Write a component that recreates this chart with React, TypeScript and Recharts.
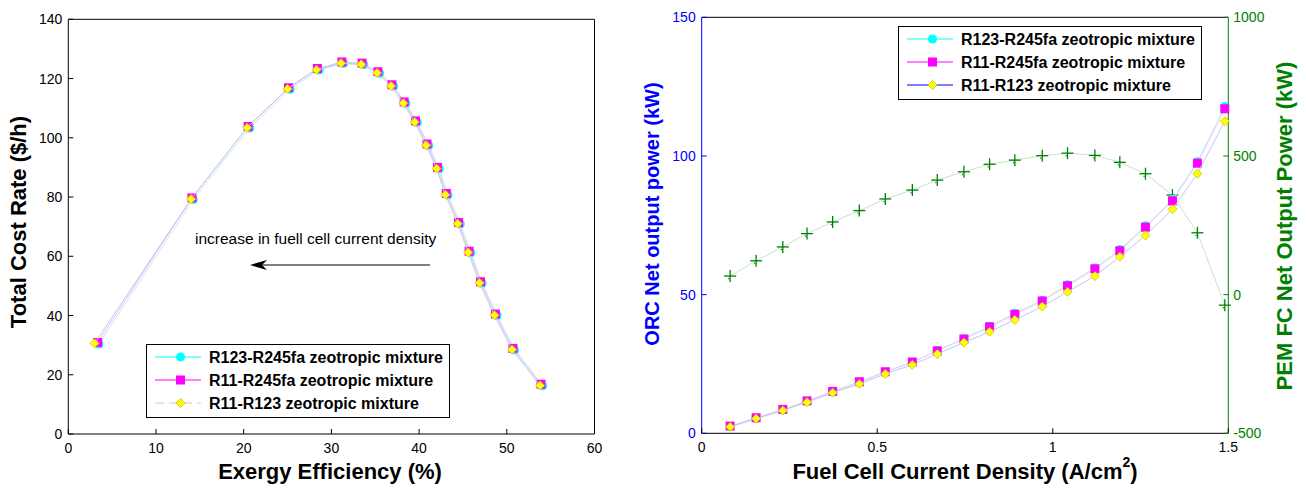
import React from "react";
import { ScatterChart, Scatter, XAxis, YAxis } from "recharts";

const FONT = '"Liberation Sans", Arial, Helvetica, sans-serif';

// left panel: exergy efficiency (%) vs total cost rate ($/h)
const effMag = [3.35, 14.1, 20.5, 25.1, 28.4, 31.2, 33.5, 35.3, 36.9, 38.3, 39.6, 40.9, 42.1, 43.1, 44.5, 45.7, 47.0, 48.7, 50.7, 53.9];
const costMag = [30.9, 79.7, 103.8, 116.9, 123.4, 125.6, 125.2, 122.3, 117.9, 112.1, 105.7, 97.9, 90.0, 81.2, 71.4, 61.7, 51.4, 40.5, 28.9, 16.8];
const effCyan = [3.5, 14.25, 20.7, 25.3, 28.6, 31.4, 33.7, 35.5, 37.1, 38.5, 39.8, 41.1, 42.3, 43.3, 44.7, 45.9, 47.2, 48.9, 50.9, 54.1];
const costCyan = [30.4, 79.2, 103.3, 116.4, 122.9, 125.1, 124.7, 121.8, 117.4, 111.6, 105.2, 97.4, 89.5, 80.7, 70.9, 61.2, 50.9, 40.0, 28.4, 16.3];
const effYel = [3.0, 14.0, 20.4, 25.0, 28.3, 31.1, 33.4, 35.2, 36.8, 38.2, 39.5, 40.8, 42.0, 43.0, 44.4, 45.6, 46.9, 48.6, 50.6, 53.8];
const costYel = [30.6, 79.3, 103.4, 116.5, 123.0, 125.2, 124.8, 121.9, 117.5, 111.7, 105.3, 97.5, 89.6, 80.8, 71.0, 61.3, 51.0, 40.1, 28.5, 16.4];

const effTicks = [0, 10, 20, 30, 40, 50, 60];
const costTicks = [0, 20, 40, 60, 80, 100, 120, 140];

// right panel: fuel cell current density (A/cm2)
const density = [0.081, 0.155, 0.231, 0.3, 0.373, 0.449, 0.523, 0.6, 0.671, 0.747, 0.82, 0.892, 0.97, 1.042, 1.12, 1.191, 1.264, 1.341, 1.412, 1.49];
const orcCyan = [2.4, 5.4, 8.4, 11.5, 14.9, 18.4, 22.0, 25.6, 29.9, 34.2, 38.6, 43.3, 48.0, 53.6, 59.6, 66.3, 74.8, 84.4, 97.9, 117.8];
const orcMag = [2.6, 5.6, 8.6, 11.7, 15.1, 18.6, 22.2, 25.7, 29.7, 34.0, 38.4, 42.9, 47.7, 53.2, 59.3, 65.8, 74.3, 83.8, 97.4, 117.0];
const orcYel = [2.3, 5.3, 8.2, 11.2, 14.6, 17.8, 21.4, 24.7, 28.6, 32.7, 36.6, 40.9, 45.7, 51.0, 56.7, 63.7, 71.3, 80.8, 93.6, 112.5];
const pemNet = [67, 122, 172, 220, 262, 303, 345, 377, 413, 443, 470, 485, 501, 510, 502, 477, 436, 359, 223, -38];

const densityTicks = [0, 0.5, 1, 1.5];
const orcTicks = [0, 50, 100, 150];
const pemTicks = [-500, 0, 500, 1000];

const seriesNames = [
  "R123-R245fa zeotropic mixture",
  "R11-R245fa zeotropic mixture",
  "R11-R123 zeotropic mixture",
];

const pts = (xs: number[], ys: number[]) => xs.map((x, i) => ({ x, y: ys[i] }));

// markers
const circleMk = (cx: number, cy: number) => <circle cx={cx} cy={cy} r={4.5} fill="#00ffff" />;
const squareMk = (cx: number, cy: number) => <rect x={cx - 4.5} y={cy - 4.5} width={9} height={9} fill="#ff00ff" />;
const diamondMk = (cx: number, cy: number) => (
  <polygon
    points={`${cx},${cy - 4.5} ${cx + 4.5},${cy} ${cx},${cy + 4.5} ${cx - 4.5},${cy}`}
    fill="#ffff00"
    stroke="#c8c800"
    strokeWidth={0.8}
  />
);
const plusMk = (cx: number, cy: number) => (
  <g>
    <line x1={cx - 6} y1={cy} x2={cx + 6} y2={cy} stroke="#008000" strokeWidth={1.3} />
    <line x1={cx} y1={cy - 6} x2={cx} y2={cy + 6} stroke="#008000" strokeWidth={1.3} />
    <rect x={cx - 2} y={cy + 2} width={1.2} height={1.2} fill="#008000" />
  </g>
);

const shape = (mk: (cx: number, cy: number) => React.ReactElement) => (p: any) => mk(p.cx, p.cy);

// ticks drawn inward, MATLAB style
const bottomTick = (color: string) => (p: any) => (
  <g>
    <line x1={p.x} y1={p.y} x2={p.x} y2={p.y - 5} stroke="#000" />
    <text x={p.x} y={p.y + 19} textAnchor="middle" fontSize={14} fill={color} fontFamily={FONT}>
      {String(p.payload.value)}
    </text>
  </g>
);
const topTick = (p: any) => <line x1={p.x} y1={p.y} x2={p.x} y2={p.y + 5} stroke="#000" />;
const leftTick = (color: string) => (p: any) => (
  <g>
    <line x1={p.x} y1={p.y} x2={p.x + 5} y2={p.y} stroke={color} />
    <text x={p.x - 6} y={p.y + 5} textAnchor="end" fontSize={14} fill={color} fontFamily={FONT}>
      {String(p.payload.value)}
    </text>
  </g>
);
const rightMirrorTick = (p: any) => <line x1={p.x} y1={p.y} x2={p.x - 5} y2={p.y} stroke="#000" />;
const rightTick = (color: string) => (p: any) => (
  <g>
    <line x1={p.x} y1={p.y} x2={p.x - 5} y2={p.y} stroke={color} />
    <text x={p.x + 5} y={p.y + 5} textAnchor="start" fontSize={14} fill={color} fontFamily={FONT}>
      {String(p.payload.value)}
    </text>
  </g>
);

type LegendRow = { line: string; dash?: string; mk: (cx: number, cy: number) => React.ReactElement };

const LegendBox = ({ left, top, rows }: { left: number; top: number; rows: LegendRow[] }) => (
  <svg style={{ position: "absolute", left, top }} width={304} height={74}>
    <rect x={0.5} y={0.5} width={303} height={73} fill="#fff" stroke="#000" />
    {rows.map((r, i) => {
      const cy = 13 + i * 23;
      return (
        <g key={i}>
          <line x1={9} y1={cy} x2={55} y2={cy} stroke={r.line} strokeWidth={1} strokeDasharray={r.dash} />
          {r.mk(34.5, cy)}
          <text x={63} y={cy + 5.5} fontSize={16} fontWeight="bold" fontFamily={FONT} fill="#000">
            {seriesNames[i]}
          </text>
        </g>
      );
    })}
  </svg>
);

const vLabel = (text: React.ReactNode, cx: number, cy: number, color: string, size: number) => (
  <div
    style={{
      position: "absolute",
      left: cx,
      top: cy,
      transform: "translate(-50%, -50%) rotate(-90deg)",
      whiteSpace: "nowrap",
      fontFamily: FONT,
      fontWeight: "bold",
      fontSize: size,
      color,
      lineHeight: 1,
    }}
  >
    {text}
  </div>
);

const hLabel = (text: React.ReactNode, cx: number, cy: number) => (
  <div
    style={{
      position: "absolute",
      left: cx,
      top: cy,
      transform: "translate(-50%, -50%)",
      whiteSpace: "nowrap",
      fontFamily: FONT,
      fontWeight: "bold",
      fontSize: 22,
      color: "#000",
      lineHeight: 1,
    }}
  >
    {text}
  </div>
);

// axes need a size of at least 1px to be drawn, so the margins are 1px smaller
const App: React.FC = () => (
  <div style={{ position: "absolute", left: 0, top: 0, width: 1306, height: 491, background: "#fff", overflow: "hidden" }}>
    {/* left panel */}
    <div style={{ position: "absolute", left: 0, top: 0 }}>
      <ScatterChart width={620} height={491} margin={{ top: 18.3, right: 24.5, bottom: 56, left: 67.3 }}>
        <XAxis
          xAxisId="b"
          type="number"
          dataKey="x"
          domain={[0, 60]}
          ticks={effTicks}
          interval={0}
          height={1}
          tickSize={0}
          tickMargin={0}
          axisLine={{ stroke: "#000" }}
          tick={bottomTick("#000")}
        />
        <XAxis
          xAxisId="t"
          orientation="top"
          type="number"
          dataKey="x"
          domain={[0, 60]}
          ticks={effTicks}
          interval={0}
          height={1}
          tickSize={0}
          tickMargin={0}
          axisLine={{ stroke: "#000" }}
          tick={topTick}
        />
        <YAxis
          yAxisId="l"
          type="number"
          dataKey="y"
          domain={[0, 140]}
          ticks={costTicks}
          interval={0}
          width={1}
          tickSize={0}
          tickMargin={0}
          axisLine={{ stroke: "#000" }}
          tick={leftTick("#000")}
        />
        <YAxis
          yAxisId="r"
          orientation="right"
          type="number"
          dataKey="y"
          domain={[0, 140]}
          ticks={costTicks}
          interval={0}
          width={1}
          tickSize={0}
          tickMargin={0}
          axisLine={{ stroke: "#000" }}
          tick={rightMirrorTick}
        />
        <Scatter xAxisId="b" yAxisId="l" data={pts(effCyan, costCyan)} line={{ stroke: "#c8e8f4", strokeWidth: 1 }} lineType="joint" shape={shape(circleMk)} isAnimationActive={false} />
        <Scatter xAxisId="b" yAxisId="l" data={pts(effMag, costMag)} line={{ stroke: "#d8c8f0", strokeWidth: 1 }} lineType="joint" shape={shape(squareMk)} isAnimationActive={false} />
        <Scatter xAxisId="b" yAxisId="l" data={pts(effYel, costYel)} line={{ stroke: "#c4c4ee", strokeWidth: 1 }} lineType="joint" shape={shape(diamondMk)} isAnimationActive={false} />
      </ScatterChart>
    </div>

    {vLabel("Total Cost Rate ($/h)", 19, 222, "#000", 22)}
    {hLabel("Exergy Efficiency (%)", 330, 472)}

    <div style={{ position: "absolute", left: 195, top: 231, fontFamily: FONT, fontSize: 15.5, color: "#000", whiteSpace: "nowrap", lineHeight: 1 }}>
      increase in fuell cell current density
    </div>
    <svg style={{ position: "absolute", left: 240, top: 255 }} width={200} height={20}>
      <line x1={14} y1={10} x2={190} y2={10} stroke="#000" strokeWidth={1} />
      <polygon points="10,10 27,5 22,10 27,15" fill="#000" />
    </svg>

    <LegendBox
      left={146}
      top={344}
      rows={[
        { line: "#00ffff", mk: circleMk },
        { line: "#ff00ff", mk: squareMk },
        { line: "#c8c8c8", dash: "9 5", mk: diamondMk },
      ]}
    />

    {/* right panel */}
    <div style={{ position: "absolute", left: 620, top: 0 }}>
      <ScatterChart width={686} height={491} margin={{ top: 16.3, right: 76.7, bottom: 56.7, left: 80.7 }}>
        <XAxis
          xAxisId="b"
          type="number"
          dataKey="x"
          domain={[0, 1.5]}
          ticks={densityTicks}
          interval={0}
          height={1}
          tickSize={0}
          tickMargin={0}
          axisLine={{ stroke: "#000" }}
          tick={bottomTick("#000")}
        />
        <XAxis
          xAxisId="t"
          orientation="top"
          type="number"
          dataKey="x"
          domain={[0, 1.5]}
          ticks={densityTicks}
          interval={0}
          height={1}
          tickSize={0}
          tickMargin={0}
          axisLine={{ stroke: "#000" }}
          tick={topTick}
        />
        <YAxis
          yAxisId="orc"
          type="number"
          dataKey="y"
          domain={[0, 150]}
          ticks={orcTicks}
          interval={0}
          width={1}
          tickSize={0}
          tickMargin={0}
          axisLine={{ stroke: "#0000ff" }}
          tick={leftTick("#0000ff")}
        />
        <YAxis
          yAxisId="pem"
          orientation="right"
          type="number"
          dataKey="y"
          domain={[-500, 1000]}
          ticks={pemTicks}
          interval={0}
          width={1}
          tickSize={0}
          tickMargin={0}
          axisLine={{ stroke: "#008000" }}
          tick={rightTick("#008000")}
        />
        <Scatter xAxisId="b" yAxisId="pem" data={pts(density, pemNet)} line={{ stroke: "#c8e4c8", strokeWidth: 1 }} lineType="joint" shape={shape(plusMk)} isAnimationActive={false} />
        <Scatter xAxisId="b" yAxisId="orc" data={pts(density, orcCyan)} line={{ stroke: "#c8eef4", strokeWidth: 1 }} lineType="joint" shape={shape(circleMk)} isAnimationActive={false} />
        <Scatter xAxisId="b" yAxisId="orc" data={pts(density, orcMag)} line={{ stroke: "#e4ccf4", strokeWidth: 1 }} lineType="joint" shape={shape(squareMk)} isAnimationActive={false} />
        <Scatter xAxisId="b" yAxisId="orc" data={pts(density, orcYel)} line={{ stroke: "#c4c4f4", strokeWidth: 1 }} lineType="joint" shape={shape(diamondMk)} isAnimationActive={false} />
      </ScatterChart>
    </div>

    {vLabel("ORC Net output power (kW)", 652, 214, "#0000ff", 20)}
    {vLabel("PEM FC Net Output Power (kW)", 1285, 226, "#008000", 22)}
    {hLabel(
      <span>
        Fuel Cell Current Density (A/cm<sup style={{ fontSize: 14, verticalAlign: "top", position: "relative", top: -6 }}>2</sup>)
      </span>,
      965,
      472
    )}

    <LegendBox
      left={898}
      top={26}
      rows={[
        { line: "#00ffff", mk: circleMk },
        { line: "#ff00ff", mk: squareMk },
        { line: "#0000ff", mk: diamondMk },
      ]}
    />
  </div>
);

export default App;
